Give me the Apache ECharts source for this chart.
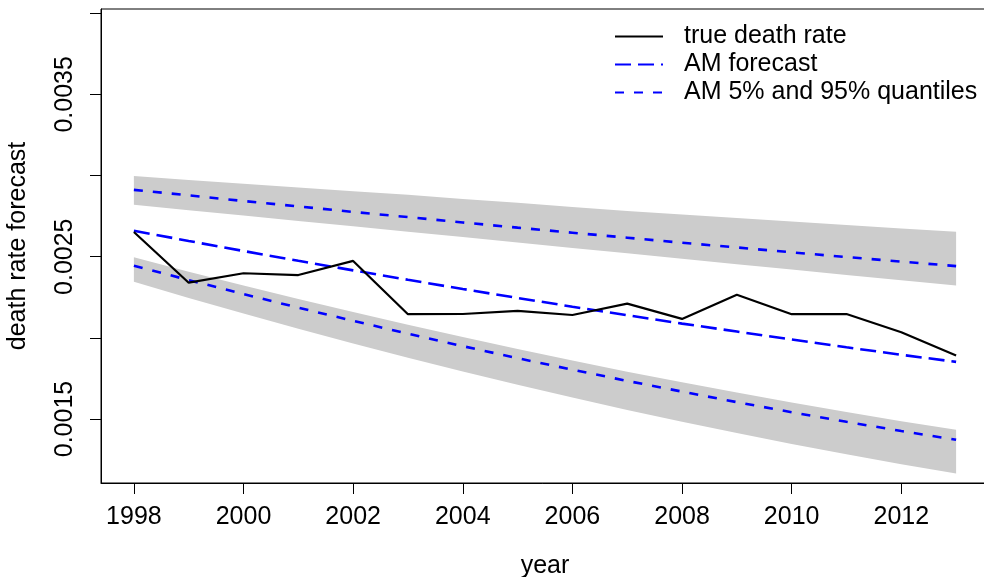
<!DOCTYPE html>
<html>
<head>
<meta charset="utf-8">
<title>Death rate forecast</title>
<script src="https://cdn.jsdelivr.net/npm/echarts@6/dist/echarts.min.js"></script>
<style>
  html, body { margin: 0; padding: 0; background: #fff; }
  #chart { width: 984px; height: 577px; }
</style>
</head>
<body>
<div id="chart"></div>
<script>
// Years of the forecast horizon
const years = [1998, 1999, 2000, 2001, 2002, 2003, 2004, 2005, 2006, 2007, 2008, 2009, 2010, 2011, 2012, 2013];

// Observed death rate
const trueRate = [0.002652, 0.002340, 0.002398, 0.002387, 0.002474, 0.002146, 0.002147, 0.002166,
                  0.002141, 0.002211, 0.002117, 0.002266, 0.002146, 0.002147, 0.002035, 0.001891];

// AM point forecast
const amForecast = [0.002660, 0.002597, 0.002535, 0.002475, 0.002416, 0.002358, 0.002301, 0.002246,
                    0.002192, 0.002140, 0.002088, 0.002039, 0.001990, 0.001942, 0.001896, 0.001852];

// AM 95% quantile and its shaded band
const amQ95 = [0.002912, 0.002878, 0.002843, 0.002810, 0.002776, 0.002744, 0.002711, 0.002679,
               0.002648, 0.002617, 0.002586, 0.002557, 0.002527, 0.002498, 0.002470, 0.002442];
const q95BandHigh = [0.002997, 0.002973, 0.002950, 0.002927, 0.002904, 0.002881, 0.002856, 0.002832,
                     0.002807, 0.002782, 0.002760, 0.002738, 0.002717, 0.002695, 0.002674, 0.002654];
const q95BandLow = [0.002820, 0.002787, 0.002754, 0.002720, 0.002687, 0.002654, 0.002621, 0.002587,
                    0.002554, 0.002521, 0.002488, 0.002454, 0.002421, 0.002388, 0.002355, 0.002322];

// AM 5% quantile and its shaded band
const amQ05 = [0.002445, 0.002356, 0.002270, 0.002186, 0.002105, 0.002026, 0.001949, 0.001875,
               0.001804, 0.001735, 0.001669, 0.001604, 0.001542, 0.001483, 0.001426, 0.001372];
const q05BandHigh = [0.002496, 0.002408, 0.002323, 0.002240, 0.002159, 0.002081, 0.002005, 0.001932,
                     0.001861, 0.001792, 0.001726, 0.001663, 0.001602, 0.001543, 0.001487, 0.001434];
const q05BandLow = [0.002346, 0.002246, 0.002150, 0.002056, 0.001965, 0.001877, 0.001793, 0.001711,
                    0.001632, 0.001556, 0.001483, 0.001414, 0.001347, 0.001283, 0.001222, 0.001164];

// Axis ticks and labels
const xTicks = [1998, 2000, 2002, 2004, 2006, 2008, 2010, 2012];
const yTicks = [0.0015, 0.0020, 0.0025, 0.0030, 0.0035, 0.0040];
const yLabels = [0.0015, 0.0025, 0.0035];

const FONT = '"Liberation Sans", Arial, Helvetica, sans-serif';
const FS = 25;
const BLUE = '#0000FF';
const BAND = '#CCCCCC';

const pairs = arr => years.map((y, i) => [y, arr[i]]);

// Shaded band: one polygon through the upper edge and back along the lower edge
function bandSeries(lo, hi) {
  return {
    type: 'custom',
    silent: true,
    z: 1,
    data: years.map((y, i) => [y, lo[i], hi[i]]),
    encode: { x: 0, y: [1, 2] },
    renderItem: (params, api) => {
      if (params.dataIndex !== 0) return null;
      const upper = years.map((y, i) => api.coord([y, hi[i]]));
      const lower = years.map((y, i) => api.coord([y, lo[i]])).reverse();
      return {
        type: 'polygon',
        shape: { points: upper.concat(lower) },
        style: { fill: BAND, stroke: null }
      };
    }
  };
}

const chart = echarts.init(document.getElementById('chart'), null, { renderer: 'canvas' });

chart.setOption({
  animation: false,
  backgroundColor: '#fff',
  textStyle: { fontFamily: FONT, color: '#000' },
  grid: {
    left: 101, top: 9, width: 888, height: 474,
    outerBoundsMode: 'none', containLabel: false,
    show: true, borderColor: '#000', borderWidth: 1, backgroundColor: 'transparent'
  },
  legend: {
    orient: 'vertical', left: 614, top: 24, padding: 0,
    itemWidth: 48, itemHeight: 14, itemGap: 3,
    data: ['true death rate', 'AM forecast', 'AM 5% and 95% quantiles'],
    itemStyle: { opacity: 0 },
    textStyle: { fontFamily: FONT, fontSize: FS, color: '#000', padding: [0, 0, 0, 16] },
    selectedMode: false
  },
  xAxis: {
    type: 'value', min: 1997.4, max: 2013.6,
    name: 'year', nameLocation: 'middle', nameGap: 71,
    nameTextStyle: { fontFamily: FONT, fontSize: FS, color: '#000' },
    axisLine: { show: true, lineStyle: { color: '#000', width: 1 } },
    axisTick: { show: true, length: 11, lineStyle: { color: '#000', width: 1 }, customValues: xTicks },
    axisLabel: { fontFamily: FONT, fontSize: FS, color: '#000', margin: 22, customValues: xTicks,
                 formatter: v => String(v) },
    splitLine: { show: false }
  },
  yAxis: {
    type: 'value', min: 0.001106, max: 0.004026,
    name: 'death rate forecast', nameLocation: 'middle', nameGap: 70,
    nameTextStyle: { fontFamily: FONT, fontSize: FS, color: '#000' },
    axisLine: { show: true, lineStyle: { color: '#000', width: 1 } },
    axisTick: { show: true, length: 11, lineStyle: { color: '#000', width: 1 }, customValues: yTicks },
    axisLabel: { fontFamily: FONT, fontSize: FS, color: '#000', margin: 23, rotate: 90,
                 customValues: yLabels, formatter: v => v.toFixed(4) },
    splitLine: { show: false }
  },
  series: [
    bandSeries(q95BandLow, q95BandHigh),
    bandSeries(q05BandLow, q05BandHigh),
    {
      name: 'AM 5% and 95% quantiles', type: 'line', data: pairs(amQ95), symbol: 'none', z: 3,
      lineStyle: { color: BLUE, width: 2.6, type: [9, 10], cap: 'butt' }, itemStyle: { color: BLUE }
    },
    {
      name: 'AM 5% and 95% quantiles', type: 'line', data: pairs(amQ05), symbol: 'none', z: 3,
      lineStyle: { color: BLUE, width: 2.6, type: [9, 10], cap: 'butt' }, itemStyle: { color: BLUE }
    },
    {
      name: 'AM forecast', type: 'line', data: pairs(amForecast), symbol: 'none', z: 3,
      lineStyle: { color: BLUE, width: 2.6, type: [16, 7], cap: 'butt' }, itemStyle: { color: BLUE }
    },
    {
      name: 'true death rate', type: 'line', data: pairs(trueRate), symbol: 'none', z: 4,
      lineStyle: { color: '#000', width: 2.2 }, itemStyle: { color: '#000' }
    }
  ]
});
</script>
</body>
</html>
